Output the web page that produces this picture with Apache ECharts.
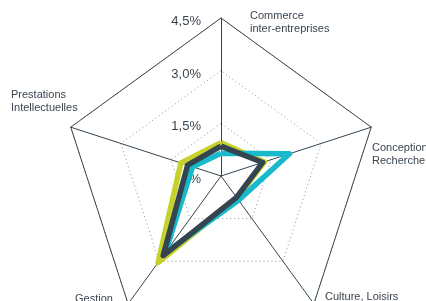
<!DOCTYPE html>
<html>
<head>
<meta charset="utf-8">
<script src="https://cdn.jsdelivr.net/npm/echarts@6/dist/echarts.min.js"></script>
<style>
  html, body { margin: 0; padding: 0; background: #fff; }
  #chart { width: 426px; height: 301px; }
</style>
</head>
<body>
<div id="chart"></div>
<script>
// axes, counterclockwise from the top
var indicators = ['Commerce inter-entreprises', 'Prestations Intellectuelles', 'Gestion', 'Culture, Loisirs', 'Conception Recherche'];
var axisMax = 4.5;
// values in %
var serieJaune = [0.95, 1.2, 3.05, 0.78, 1.3];
var serieCyan = [0.65, 0.85, 2.7, 0.85, 2.05];
var serieSombre = [0.85, 1.0, 2.8, 0.75, 1.25];

var chart = echarts.init(document.getElementById('chart'));

var centre = [221, 176];
var rayon = 158;
var texte = '#3a4550';

function fmt(v) {
  if (v === 0) return '0%';
  return v.toFixed(1).replace('.', ',') + '%';
}

// only the top axis carries the value labels
var indic = indicators.map(function (n, i) {
  var o = { name: n, max: axisMax, min: 0 };
  if (i > 0) o.axisLabel = { show: false };
  return o;
});
var indic2 = indicators.map(function (n) {
  return { name: n, max: axisMax, min: 0 };
});

function ligne(x, y, txt) {
  return {
    type: 'text', left: x, top: y, z: 10,
    style: { text: txt, fill: texte, font: '11px "Liberation Sans", Arial', lineHeight: 13 }
  };
}

chart.setOption({
  animation: false,
  radar: [{
    // inner dotted rings + labels
    center: centre,
    radius: rayon,
    splitNumber: 3,
    shape: 'polygon',
    axisName: { show: false },
    axisLine: { show: false },
    axisTick: { show: false },
    splitArea: { show: false },
    splitLine: { lineStyle: { color: '#8a9096', width: 1, type: [1, 3] } },
    axisLabel: {
      show: true, margin: 20, color: texte, fontSize: 13,
      fontFamily: '"Liberation Sans", Arial',
      verticalAlign: 'top', lineHeight: 7,
      formatter: fmt
    },
    indicator: indic
  }, {
    // outer solid ring + spokes
    center: centre,
    radius: rayon,
    splitNumber: 1,
    shape: 'polygon',
    axisName: { show: false },
    axisLine: { show: true, lineStyle: { color: '#34454f', width: 1 } },
    axisTick: { show: false },
    splitArea: { show: false },
    splitLine: { lineStyle: { color: '#34454f', width: 1 } },
    axisLabel: { show: false },
    indicator: indic2
  }],
  graphic: [
    ligne(250, 9, 'Commerce\ninter-entreprises'),
    ligne(11, 88, 'Prestations\nIntellectuelles'),
    ligne(372, 141, 'Conception\nRecherche'),
    ligne(325, 290, 'Culture, Loisirs'),
    ligne(75, 292, 'Gestion')
  ],
  series: [
    {
      type: 'radar', radarIndex: 0, symbol: 'none', silent: true,
      lineStyle: { color: '#c6d22b', width: 5.5, join: 'round' },
      data: [{ value: serieJaune }]
    },
    {
      type: 'radar', radarIndex: 0, symbol: 'none', silent: true,
      lineStyle: { color: '#19b9cc', width: 5.5, join: 'round' },
      data: [{ value: serieCyan }]
    },
    {
      type: 'radar', radarIndex: 0, symbol: 'none', silent: true,
      lineStyle: { color: '#34454f', width: 5.5, join: 'round' },
      data: [{ value: serieSombre }]
    }
  ]
});
</script>
</body>
</html>
